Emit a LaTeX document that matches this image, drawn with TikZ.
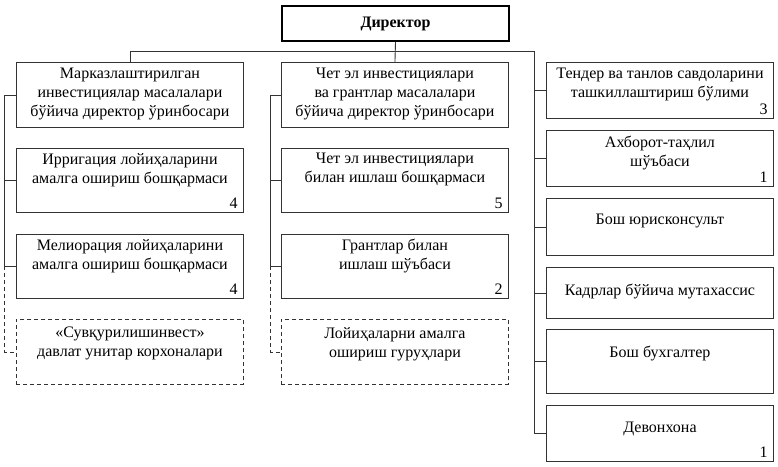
\documentclass[tikz,border=0pt]{standalone}
\usepackage{fontspec}
\setmainfont{Liberation Serif}
\newcommand{\bxfont}{\fontsize{16}{19}\selectfont}
\begin{document}
\begin{tikzpicture}[x=1pt,y=-1pt,
 box/.style={draw=black!80, line width=0.9pt, inner sep=0pt, minimum width=227pt, anchor=north west},
 dbox/.style={box, dash pattern=on 4pt off 3pt},
 lbl/.style={inner sep=0pt, align=center, anchor=north, font=\bxfont},
 num/.style={inner sep=0pt, anchor=south east, font=\bxfont},
 ln/.style={draw=black!80, line width=0.9pt},
 dln/.style={ln, dash pattern=on 4pt off 3pt}]
\useasboundingbox (0,0) rectangle (778,466);

% director
\node[draw=black, line width=2pt, minimum width=227pt, minimum height=35pt, inner sep=0pt,
      anchor=north west, font=\bxfont\bfseries] (dir) at (281,5) {Директор};

% left column
\node[box, minimum height=65pt] (m1) at (16,62) {};
\node[lbl] (m1t) at ([yshift=-6pt]m1.north) {Марказлаштирилган\\инвестициялар масалалари\\бўйича директор ўринбосари};
\node[box, minimum height=64pt] (irr) at (16,148) {};
\node[lbl] (irrt) at ([yshift=-5pt]irr.north) {Ирригация лойиҳаларини\\амалга ошириш бошқармаси};
\node[num] (irrn) at ([xshift=-6pt,yshift=4pt]irr.south east) {4};
\node[box, minimum height=64pt] (mel) at (16,234) {};
\node[lbl] (melt) at ([yshift=-5pt]mel.north) {Мелиорация лойиҳаларини\\амалга ошириш бошқармаси};
\node[num] (meln) at ([xshift=-6pt,yshift=4pt]mel.south east) {4};
\node[dbox, minimum height=65pt] (suv) at (16,319) {};
\node[lbl] (suvt) at ([yshift=-8pt]suv.north) {«Сувқурилишинвест»\\давлат унитар корхоналари};

% middle column
\node[box, minimum height=65pt] (m2) at (281,62) {};
\node[lbl] (m2t) at ([yshift=-6pt]m2.north) {Чет эл инвестициялари\\ва грантлар масалалари\\бўйича директор ўринбосари};
\node[box, minimum height=64pt] (chet) at (281,148) {};
\node[lbl] (chett) at ([yshift=-5pt]chet.north) {Чет эл инвестициялари\\билан ишлаш бошқармаси};
\node[num] (chetn) at ([xshift=-6pt,yshift=4pt]chet.south east) {5};
\node[box, minimum height=64pt] (grant) at (281,234) {};
\node[lbl] (grantt) at ([yshift=-5pt]grant.north) {Грантлар билан\\ишлаш шўъбаси};
\node[num] (grantn) at ([xshift=-6pt,yshift=4pt]grant.south east) {2};
\node[dbox, minimum height=65pt] (loy) at (281,319) {};
\node[lbl] (loyt) at ([yshift=-8pt]loy.north) {Лойиҳаларни амалга\\ошириш гуруҳлари};

% right column
\node[box, minimum height=56pt] (tend) at (546,62) {};
\node[lbl] (tendt) at ([yshift=-6pt]tend.north) {Тендер ва танлов савдоларини\\ташкиллаштириш бўлими};
\node[num] (tendn) at ([xshift=-6pt,yshift=4pt]tend.south east) {3};
\node[box, minimum height=56pt] (axb) at (546,130) {};
\node[lbl] (axbt) at ([yshift=-6pt]axb.north) {Ахборот-таҳлил\\шўъбаси};
\node[num] (axbn) at ([xshift=-6pt,yshift=4pt]axb.south east) {1};
\node[box, minimum height=57pt] (yur) at (546,198) {};
\node[lbl] (yurt) at ([yshift=-16pt]yur.north) {Бош юрисконсульт};
\node[box, minimum height=51pt] (kad) at (546,267) {};
\node[lbl] (kadt) at ([yshift=-17pt]kad.north) {Кадрлар бўйича мутахассис};
\node[box, minimum height=64pt] (bux) at (546,329) {};
\node[lbl] (buxt) at ([yshift=-17pt]bux.north) {Бош бухгалтер};
\node[box, minimum height=56pt] (dev) at (546,405) {};
\node[lbl] (devt) at ([yshift=-17pt]dev.north) {Девонхона};
\node[num] (devn) at ([xshift=-6pt,yshift=4pt]dev.south east) {1};

% spine coordinates
\coordinate (top) at (0,51);
\coordinate (sL) at (4,0);
\coordinate (sM) at (270,0);
\coordinate (sR) at (534,0);

% top connectors
\draw[ln] (dir.south) -- (m2.north);
\draw[ln] (m1.north) -- (m1.north |- top) -- (sR |- top) -- (sR |- dev.west) -- (dev.west);
\foreach \b in {tend,axb,yur,kad,bux}{
  \draw[ln] (sR |- \b.west) -- (\b.west);
}

% left spine
\draw[ln] (m1.west) -- (sL |- m1.west) -- (sL |- mel.west) -- (mel.west);
\draw[ln] (sL |- irr.west) -- (irr.west);
\draw[dln] (sL |- mel.west) -- (sL |- suv.west) -- (suv.west);

% middle spine
\draw[ln] (m2.west) -- (sM |- m2.west) -- (sM |- grant.west) -- (grant.west);
\draw[ln] (sM |- chet.west) -- (chet.west);
\draw[dln] (sM |- grant.west) -- (sM |- loy.west) -- (loy.west);
\end{tikzpicture}
\end{document}
